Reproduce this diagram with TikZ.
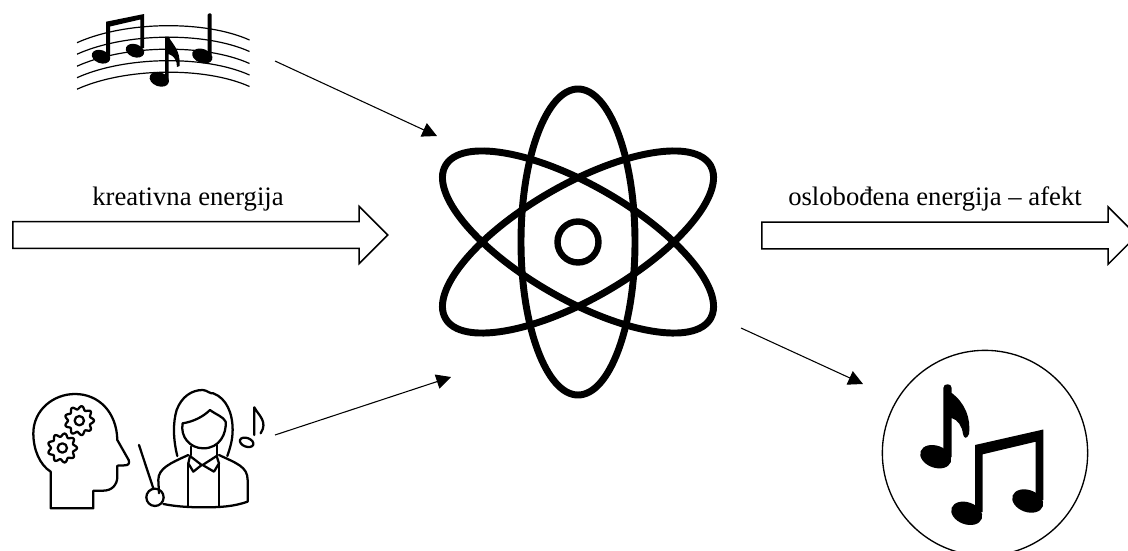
\documentclass[tikz,border=0pt]{standalone}
\usepackage{fontspec}
\setmainfont{Liberation Serif}
\usetikzlibrary{shapes.arrows, arrows.meta}

\begin{document}
\begin{tikzpicture}[
  x=0.75pt, y=-0.75pt,
  arr/.style={-{Triangle[length=11pt,width=11pt]}, line width=0.8pt},
  blockarrow/.style={single arrow, draw, line width=1.1pt, anchor=west, inner sep=0pt, text width=0pt, text height=18.9pt, text depth=0pt, minimum height=281.25pt, single arrow head extend=11.5pt, single arrow tip angle=90},
  lbl/.style={font=\fontsize{20}{24}\selectfont, inner sep=0pt},
  orbit/.style={line width=5.2pt},
  staff/.style={line width=0.9pt},
  icon/.style={line width=1.7pt, line join=round, line cap=round},
  iconbox/.style={shift={(20,380)}, scale=0.3333}
]
\clip (0,0) rectangle (1128,550);

% atom
\coordinate (atom) at (578,242);
\foreach \ang in {0,60,120}
  \draw[orbit, rotate around={\ang:(atom)}] (atom) ellipse [x radius=57, y radius=153];
\draw[line width=4.8pt] (atom) circle [radius=20.5];

% block arrows
\node[blockarrow] (inflow) at (12,235) {};
\node[blockarrow] (outflow) at (761,235.5) {};
\node[lbl] (inlabel) at (188,199) {kreativna energija};
\node[lbl] (outlabel) at (935,199) {oslobođena energija -- afekt};

% staff with notes
\foreach \dy in {0,11.5,23.5,35,46.5}
  \draw[staff] (77,42.7+\dy) .. controls (125,21+\dy) and (205,20+\dy) .. (249.5,40+\dy);
\foreach \hx/\hy/\hrx/\hry in {101/56.7/9.5/6.5, 135/50.7/9.5/6.5, 159.3/79.3/10/7, 202.3/56/10.5/7}
  \fill[rotate around={-20:(\hx,\hy)}] (\hx,\hy) ellipse [x radius=\hrx, y radius=\hry];
\fill (106.2,21.7) -- (144,14) -- (144,48) -- (140.3,48) -- (140.3,19.5) -- (110,26.5) -- (110,56.7) -- (106.2,56.7) -- cycle;
\fill (165,36.7) -- (168.7,36.7) .. controls (172,44) and (181,50) .. (179.5,66) -- (177,67) .. controls (177,60) and (174,56) .. (168.7,54) -- (168.7,79) -- (165,79) -- cycle;
\fill[rounded corners=1pt] (207.7,13.3) -- (211.7,13.3) -- (211.7,56) -- (207.7,56) -- cycle;

% conductor
\begin{scope}[iconbox, icon]
  \draw (92,385) -- (92,275) .. controls (60,255) and (40,210) .. (40,160) .. controls (40,90) and (100,42) .. (165,42) .. controls (235,42) and (290,95) .. (292,180) -- (326,240) .. controls (330,250) and (325,256) .. (315,256) -- (292,257) -- (292,290) .. controls (292,315) and (275,332) .. (250,332) -- (220,332) -- (220,385) -- cycle;
  \foreach \gx/\gy in {178/122,127/204} {
    \draw[samples=97, domain=0:360, smooth] plot ({\gx+(39+5*cos(9*\x))*cos(\x)},{\gy+(39+5*cos(9*\x))*sin(\x)}) -- cycle;
    \draw (\gx,\gy) circle [radius=14];
  }
  \draw (472,228) .. controls (460,180) and (458,130) .. (470,90) .. controls (485,50) and (515,30) .. (548,30) .. controls (560,30) and (570,42) .. (580,40) .. controls (620,55) and (638,100) .. (638,150) .. controls (638,180) and (630,205) .. (622,228);
  \draw (488,130) .. controls (520,125) and (550,110) .. (570,90) .. controls (590,105) and (610,110) .. (617,125) .. controls (620,160) and (600,205) .. (550,205) .. controls (510,205) and (480,170) .. (488,130) -- cycle;
  \draw (513,200) -- (513,225);
  \draw (590,195) -- (590,225);
  \draw (417,340) -- (415,300) .. controls (415,265) and (450,250) .. (505,225);
  \draw (597,225) .. controls (650,250) and (683,260) .. (683,300) -- (683,365) .. controls (640,380) and (600,382) .. (550,382) .. controls (510,382) and (470,380) .. (430,372);
  \draw (505,250) -- (505,380);
  \draw (597,250) -- (597,380);
  \draw (510,228) -- (545,255) -- (520,275) -- (505,250) -- cycle;
  \draw (590,228) -- (548,255) -- (582,275) -- (597,250) -- cycle;
  \draw (357,195) -- (400,325);
  \draw (405,352) circle [radius=26];
  \draw (703,165) -- (703,82) .. controls (715,105) and (745,125) .. (722,160);
  \draw[rotate around={-20:(680,187)}] (680,187) ellipse [x radius=21, y radius=13];
\end{scope}

% notes in circle
\node[circle, draw, line width=1pt, minimum size=154pt, inner sep=0pt] (outnotes) at (985,453) {};
\foreach \hx/\hy in {935.7/456.7, 966.7/513.3, 1027.7/501}
  \fill[rotate around={-20:(\hx,\hy)}] (\hx,\hy) ellipse [x radius=16, y radius=11];
\fill (975,445) -- (1043.3,429.5) -- (1043.3,500) -- (1035.7,500) -- (1035.7,441.7) -- (982.7,454.3) -- (982.7,512) -- (975,512) -- cycle;
\fill (943.3,388) .. controls (943.3,383) and (951.7,383) .. (951.7,388) -- (951.7,393) .. controls (965,403) and (971,418) .. (969,434) .. controls (967,439) and (964,439) .. (963,434) .. controls (962,426) and (958,420) .. (951.7,418) -- (951.7,457) -- (943.3,457) -- cycle;

% connectors
\coordinate (scoreout) at (275,61);
\coordinate (atomina) at (437,136);
\coordinate (conductorout) at (275,435);
\coordinate (atominb) at (451,377);
\coordinate (atomout) at (741,328);
\coordinate (notesin) at (863,384);
\draw[arr] (scoreout) -- (atomina);
\draw[arr] (conductorout) -- (atominb);
\draw[arr] (atomout) -- (notesin);
\end{tikzpicture}
\end{document}
